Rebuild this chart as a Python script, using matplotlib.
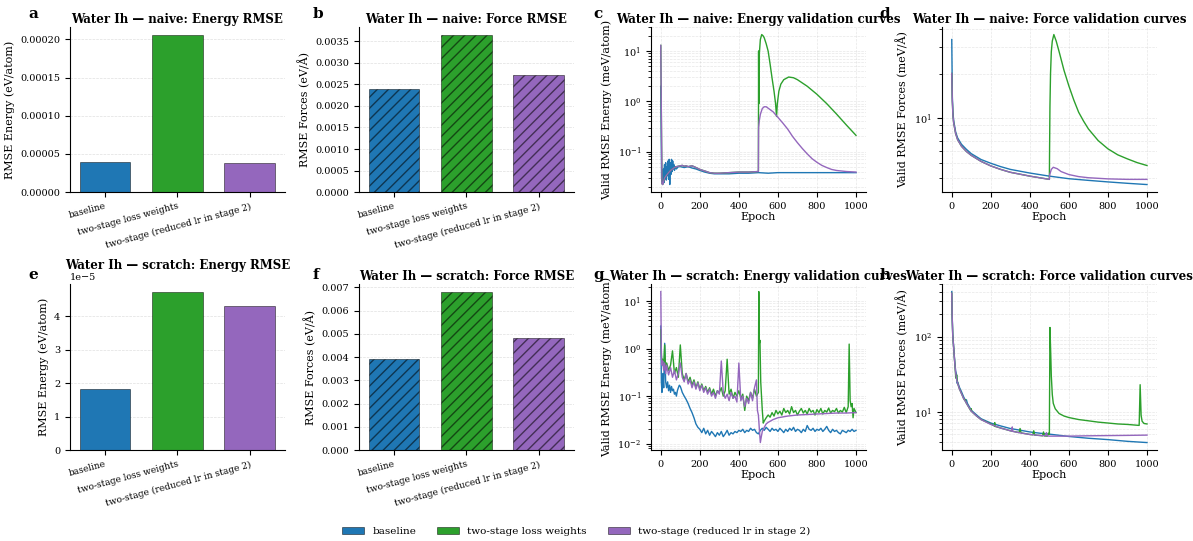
import matplotlib
matplotlib.use("Agg")
import matplotlib.pyplot as plt
from matplotlib.patches import Patch

plt.rcParams["font.family"] = "serif"
plt.rcParams["font.serif"] = ["DejaVu Serif"]

labels = ["baseline", "two-stage loss weights", "two-stage (reduced lr in stage 2)"]
colors = ["#1f77b4", "#2ca02c", "#9467bd"]

# final test RMSE (bar panels)
naive_energy_rmse = [3.90e-5, 2.06e-4, 3.85e-5]
naive_force_rmse = [0.00240, 0.00365, 0.00272]
scratch_energy_rmse = [1.83e-5, 4.73e-5, 4.30e-5]
scratch_force_rmse = [0.00390, 0.00680, 0.00483]

# ---- naive: energy validation curves (meV/atom)
nE_base_ep = [0, 2, 4, 6, 8, 10, 13, 16, 19, 22, 25, 28, 31, 34, 37, 40, 43, 46, 49, 52,
              55, 58, 61, 64, 67, 70, 75, 80, 90, 100, 120, 140, 160, 170, 180, 200, 225,
              250, 275, 300, 350, 400, 450, 500, 550, 600, 700, 800, 900, 1000]
nE_base = [2.0, 0.3, 0.03, 0.025, 0.035, 0.028, 0.045, 0.024, 0.055, 0.03, 0.06, 0.027,
           0.05, 0.033, 0.065, 0.028, 0.07, 0.022, 0.06, 0.035, 0.07, 0.04, 0.065, 0.045,
           0.055, 0.042, 0.05, 0.045, 0.05, 0.05, 0.048, 0.05, 0.047, 0.046, 0.045, 0.042,
           0.039, 0.037, 0.036, 0.036, 0.036, 0.037, 0.037, 0.038, 0.037, 0.038, 0.038,
           0.038, 0.038, 0.038]
nE_stage1_ep = [0, 3, 6, 10, 15, 20, 30, 40, 50, 60, 70, 80, 90, 100, 110, 120, 130, 140,
                150, 160, 170, 180, 190, 200, 225, 250, 275, 300, 350, 400, 450, 500]
nE_stage1 = [13.0, 0.5, 0.023, 0.022, 0.026, 0.03, 0.034, 0.038, 0.042, 0.045, 0.048, 0.05,
             0.051, 0.052, 0.053, 0.051, 0.052, 0.05, 0.051, 0.052, 0.05, 0.048, 0.046,
             0.044, 0.041, 0.038, 0.037, 0.037, 0.038, 0.039, 0.039, 0.04]
nE_loss_ep = [501, 502, 503, 504, 505, 510, 517, 525, 530, 540, 550, 560, 570, 580, 588,
              593, 597, 605, 615, 630, 655, 680, 700, 750, 800, 850, 900, 950, 1000]
nE_loss = [10.0, 0.9, 10.0, 1.0, 9.0, 17.0, 21.4, 20.0, 18.4, 14.0, 10.0, 5.5, 2.9, 1.6,
           0.9, 0.5, 0.9, 1.6, 2.2, 2.7, 3.05, 2.95, 2.7, 2.0, 1.38, 0.9, 0.56, 0.34, 0.21]
nE_lr_ep = [501, 505, 510, 520, 530, 540, 550, 575, 600, 625, 650, 675, 700, 725, 750, 775,
            800, 825, 850, 875, 900, 950, 1000]
nE_lr = [0.3, 0.42, 0.55, 0.72, 0.78, 0.78, 0.73, 0.62, 0.48, 0.37, 0.28, 0.2, 0.15, 0.115,
         0.09, 0.072, 0.061, 0.053, 0.048, 0.044, 0.042, 0.04, 0.039]

# ---- naive: force validation curves (meV/Å)
nF_base_ep = [0, 3, 6, 10, 20, 30, 50, 75, 100, 150, 200, 250, 300, 400, 500, 600, 700,
              800, 900, 1000]
nF_base = [33.8, 14.0, 11.0, 9.6, 8.1, 7.4, 6.7, 6.2, 5.8, 5.3, 5.0, 4.75, 4.55, 4.3, 4.1,
           3.94, 3.84, 3.75, 3.67, 3.6]
nF_stage1_ep = [0, 3, 6, 10, 20, 30, 50, 75, 100, 150, 200, 250, 300, 400, 500]
nF_stage1 = [20.0, 13.0, 10.5, 9.3, 7.9, 7.2, 6.5, 6.0, 5.65, 5.15, 4.8, 4.55, 4.35, 4.1,
             3.9]
nF_loss_ep = [501, 503, 506, 510, 515, 523, 535, 550, 575, 600, 625, 650, 675, 700, 750,
              800, 850, 900, 950, 1000]
nF_loss = [6.0, 12.0, 20.0, 28.0, 33.0, 36.5, 33.0, 28.0, 21.0, 16.5, 13.3, 11.0, 9.6, 8.5,
           7.1, 6.25, 5.7, 5.35, 5.05, 4.83]
nF_lr_ep = [502, 510, 520, 540, 560, 600, 650, 700, 800, 900, 1000]
nF_lr = [4.2, 4.55, 4.7, 4.6, 4.4, 4.2, 4.07, 4.0, 3.93, 3.9, 3.9]

# ---- scratch: energy validation curves (meV/atom)
sE_base_ep = [0, 3, 6, 10, 15, 20, 25, 30, 35, 40, 45, 50, 55, 60, 65, 70, 75, 80, 85, 90,
              95, 100, 105, 110, 120, 130, 140, 150, 160, 170, 180, 190, 200, 210, 220,
              230, 240, 250, 260, 270, 280, 290, 300, 310, 320, 330, 340, 350, 360, 370,
              380, 390, 400, 410, 420, 430, 440, 450, 460, 470, 480, 490, 500, 510, 520,
              530, 540, 550, 560, 570, 580, 590, 600, 610, 620, 630, 640, 650, 660, 670,
              680, 690, 700, 710, 720, 730, 740, 750, 760, 770, 780, 790, 800, 810, 820,
              830, 840, 850, 860, 870, 880, 890, 900, 910, 920, 930, 940, 950, 960, 970,
              980, 990, 1000]
sE_base = [3.0, 0.2, 0.12, 0.3, 0.15, 1.3, 0.2, 0.15, 0.2, 0.13, 0.17, 0.12, 0.16, 0.13,
           0.14, 0.11, 0.12, 0.10, 0.13, 0.15, 0.17, 0.16, 0.14, 0.12, 0.10, 0.085, 0.07,
           0.055, 0.045, 0.035, 0.026, 0.022, 0.02, 0.017, 0.021, 0.016, 0.019, 0.015,
           0.018, 0.016, 0.014, 0.017, 0.015, 0.018, 0.014, 0.016, 0.019, 0.015, 0.017,
           0.016, 0.018, 0.017, 0.019, 0.018, 0.02, 0.017, 0.019, 0.018, 0.021, 0.019,
           0.02, 0.017, 0.016, 0.019, 0.021, 0.019, 0.022, 0.02, 0.018, 0.021, 0.019, 0.02,
           0.018, 0.021, 0.019, 0.017, 0.02, 0.018, 0.021, 0.019, 0.022, 0.018, 0.02,
           0.019, 0.017, 0.02, 0.018, 0.024, 0.02, 0.019, 0.021, 0.018, 0.02, 0.019, 0.021,
           0.018, 0.02, 0.023, 0.019, 0.017, 0.02, 0.018, 0.019, 0.017, 0.016, 0.019,
           0.018, 0.017, 0.019, 0.018, 0.02, 0.018, 0.019]
sE_loss_ep = [0, 3, 6, 10, 15, 20, 25, 30, 40, 50, 60, 70, 80, 90, 100, 110, 120, 130, 140,
              150, 160, 170, 180, 190, 200, 210, 220, 230, 240, 250, 260, 270, 280, 290,
              300, 310, 320, 330, 340, 350, 360, 370, 380, 390, 400, 410, 420, 430, 440,
              450, 460, 470, 480, 490, 500, 502, 505, 508, 512, 516, 520, 525, 530, 540,
              550, 560, 570, 580, 590, 600, 610, 620, 630, 640, 650, 660, 670, 680, 690,
              700, 710, 720, 730, 740, 750, 760, 770, 780, 790, 800, 810, 820, 830, 840,
              850, 860, 870, 880, 890, 900, 910, 920, 930, 940, 950, 960, 965, 970, 975,
              980, 985, 990, 1000]
sE_loss = [2.5, 0.8, 0.5, 0.6, 0.4, 1.2, 0.35, 0.5, 0.35, 0.45, 0.9, 0.3, 0.4, 0.25, 1.2,
           0.3, 0.22, 0.3, 0.2, 0.25, 0.17, 0.22, 0.15, 0.2, 0.14, 0.18, 0.13, 0.16, 0.12,
           0.15, 0.11, 0.14, 0.1, 0.13, 0.12, 0.15, 0.1, 0.13, 0.6, 0.11, 0.14, 0.09, 0.12,
           0.1, 0.13, 0.09, 0.11, 0.05, 0.1, 0.08, 0.12, 0.09, 0.14, 0.1, 0.12, 16.0, 1.3,
           1.5, 0.2, 0.1, 0.05, 0.027, 0.03, 0.035, 0.04, 0.036, 0.045, 0.038, 0.05, 0.042,
           0.048, 0.04, 0.055, 0.045, 0.05, 0.042, 0.06, 0.045, 0.05, 0.04, 0.048, 0.055,
           0.044, 0.05, 0.042, 0.055, 0.046, 0.05, 0.04, 0.052, 0.045, 0.055, 0.042, 0.05,
           0.046, 0.056, 0.044, 0.05, 0.047, 0.055, 0.044, 0.05, 0.046, 0.058, 0.045, 0.06,
           1.25, 0.08, 0.06, 0.07, 0.035, 0.055, 0.045]
sE_lr_ep = [0, 3, 6, 10, 15, 20, 25, 30, 40, 50, 60, 70, 80, 90, 100, 110, 120, 130, 140,
            150, 160, 170, 180, 190, 200, 210, 220, 230, 240, 250, 260, 270, 280, 290, 300,
            310, 320, 330, 340, 350, 360, 370, 380, 390, 400, 410, 420, 430, 440, 450, 460,
            470, 480, 490, 495, 500, 505, 510, 515, 520, 530, 540, 550, 575, 600, 650, 700,
            750, 800, 850, 900, 950, 1000]
sE_lr = [16.0, 0.7, 0.45, 0.55, 0.35, 0.5, 0.3, 0.45, 0.28, 0.4, 0.25, 0.35, 0.22, 0.3, 0.5,
         0.25, 0.2, 0.3, 0.18, 0.22, 0.15, 0.2, 0.14, 0.19, 0.13, 0.17, 0.12, 0.15, 0.11,
         0.14, 0.1, 0.12, 0.09, 0.13, 0.11, 0.55, 0.12, 0.09, 0.11, 0.08, 0.12, 0.09, 0.1,
         0.075, 0.5, 0.08, 0.1, 0.06, 0.09, 0.07, 0.12, 0.08, 0.15, 0.22, 0.05, 0.04, 0.02,
         0.0105, 0.014, 0.018, 0.022, 0.026, 0.028, 0.032, 0.035, 0.038, 0.04, 0.041, 0.042,
         0.043, 0.044, 0.044, 0.045]

# ---- scratch: force validation curves (meV/Å)
sF_base_ep = [0, 2, 5, 10, 15, 20, 25, 28, 30, 40, 50, 60, 70, 75, 80, 100, 125, 150, 200,
              250, 300, 350, 400, 450, 500, 600, 700, 800, 900, 1000]
sF_base = [400.0, 200.0, 110.0, 72.0, 48.0, 35.0, 31.0, 24.0, 25.0, 21.0, 18.5, 16.0, 14.2,
           14.5, 13.0, 10.5, 9.2, 8.1, 7.1, 6.5, 6.0, 5.7, 5.4, 5.2, 5.05, 4.7, 4.45, 4.27,
           4.05, 3.9]
sF_loss_ep = [0, 2, 5, 10, 15, 20, 22, 25, 30, 40, 50, 60, 68, 70, 72, 80, 98, 100, 102,
              125, 150, 200, 218, 220, 222, 250, 300, 345, 350, 355, 400, 415, 420, 425,
              450, 465, 470, 475, 490, 495, 500, 503, 507, 510, 515, 520, 530, 550, 575,
              600, 650, 700, 750, 800, 850, 900, 960, 965, 970, 975, 985, 1000]
sF_loss = [380.0, 190.0, 105.0, 70.0, 46.0, 30.0, 28.0, 31.0, 24.0, 20.0, 17.5, 15.2, 14.0,
           14.6, 13.4, 12.4, 10.3, 11.0, 10.1, 8.9, 7.9, 6.9, 6.5, 7.2, 6.4, 6.1, 5.6, 5.3,
           6.0, 5.25, 5.0, 4.95, 5.6, 4.9, 4.85, 4.8, 5.4, 4.78, 4.75, 5.2, 5.0, 133.0, 60.0,
           30.0, 17.0, 13.0, 11.0, 9.5, 8.8, 8.4, 7.9, 7.6, 7.3, 7.1, 6.9, 6.8, 6.6, 23.0,
           9.0, 7.5, 7.0, 6.9]
sF_lr_ep = [0, 2, 5, 10, 15, 20, 25, 30, 40, 50, 60, 70, 80, 100, 125, 150, 200, 250, 300,
            308, 310, 312, 350, 400, 450, 480, 485, 490, 500, 520, 600, 700, 800, 900, 1000]
sF_lr = [380.0, 190.0, 105.0, 70.0, 46.0, 33.0, 27.0, 24.0, 20.0, 17.5, 15.2, 13.8, 12.4,
         10.2, 8.9, 7.9, 6.8, 6.1, 5.6, 5.55, 6.3, 5.5, 5.25, 5.0, 4.85, 4.8, 5.3, 4.78,
         4.75, 4.75, 4.75, 4.8, 4.83, 4.86, 4.9]


def bar_panel(ax, values, title, ylabel, hatch=None):
    x = range(len(values))
    ax.bar(x, values, width=0.7, color=colors, edgecolor=(0, 0, 0, 0.55),
           linewidth=0.6, hatch=hatch, zorder=2)
    ax.set_xticks(list(x))
    ax.set_xticklabels(labels, rotation=15, ha="right", rotation_mode="anchor",
                       fontsize=6.5)
    ax.tick_params(axis="y", labelsize=7)
    ax.yaxis.get_offset_text().set_fontsize(7)
    ax.set_ylabel(ylabel, fontsize=8)
    ax.set_title(title, fontsize=8.5, fontweight="bold", pad=3)
    ax.grid(True, axis="y", ls="--", lw=0.5, alpha=0.4, zorder=0)
    ax.spines["top"].set_visible(False)
    ax.spines["right"].set_visible(False)


def curve_panel(ax, series, title, ylabel):
    for (ep, val), c in zip(series, colors):
        ax.plot(ep, val, color=c, lw=1.0)
    ax.set_yscale("log")
    ax.set_xlabel("Epoch", fontsize=8, labelpad=1)
    ax.set_ylabel(ylabel, fontsize=8)
    ax.tick_params(axis="both", labelsize=7)
    ax.set_title(title, fontsize=8.5, fontweight="bold", pad=3)
    ax.grid(True, which="both", ls="--", lw=0.5, alpha=0.3)
    ax.spines["top"].set_visible(False)
    ax.spines["right"].set_visible(False)


fig = plt.figure(figsize=(11.93, 5.41), dpi=100)

lefts = [0.0587, 0.3009, 0.5457, 0.7896]
w = 0.180
row1_b, row1_h = 0.645, 0.305
row2_b, row2_h = 0.168, 0.307

ax_a = fig.add_axes([lefts[0], row1_b, w, row1_h])
ax_b = fig.add_axes([lefts[1], row1_b, w, row1_h])
ax_c = fig.add_axes([lefts[2], row1_b, w, row1_h])
ax_d = fig.add_axes([lefts[3], row1_b, w, row1_h])
ax_e = fig.add_axes([lefts[0], row2_b, w, row2_h])
ax_f = fig.add_axes([lefts[1], row2_b, w, row2_h])
ax_g = fig.add_axes([lefts[2], row2_b, w, row2_h])
ax_h = fig.add_axes([lefts[3], row2_b, w, row2_h])

bar_panel(ax_a, naive_energy_rmse, "Water Ih — naive: Energy RMSE", "RMSE Energy (eV/atom)")
bar_panel(ax_b, naive_force_rmse, "Water Ih — naive: Force RMSE", "RMSE Forces (eV/Å)",
          hatch="///")
bar_panel(ax_e, scratch_energy_rmse, "Water Ih — scratch: Energy RMSE",
          "RMSE Energy (eV/atom)")
bar_panel(ax_f, scratch_force_rmse, "Water Ih — scratch: Force RMSE", "RMSE Forces (eV/Å)",
          hatch="///")

curve_panel(ax_c, [(nE_base_ep, nE_base),
                   (nE_stage1_ep + nE_loss_ep, nE_stage1 + nE_loss),
                   (nE_stage1_ep + nE_lr_ep, nE_stage1 + nE_lr)],
            "Water Ih — naive: Energy validation curves", "Valid RMSE Energy (meV/atom)")
curve_panel(ax_d, [(nF_base_ep, nF_base),
                   (nF_stage1_ep + nF_loss_ep, nF_stage1 + nF_loss),
                   (nF_stage1_ep + nF_lr_ep, nF_stage1 + nF_lr)],
            "Water Ih — naive: Force validation curves", "Valid RMSE Forces (meV/Å)")
curve_panel(ax_g, [(sE_base_ep, sE_base), (sE_loss_ep, sE_loss), (sE_lr_ep, sE_lr)],
            "Water Ih — scratch: Energy validation curves", "Valid RMSE Energy (meV/atom)")
curve_panel(ax_h, [(sF_base_ep, sF_base), (sF_loss_ep, sF_loss), (sF_lr_ep, sF_lr)],
            "Water Ih — scratch: Force validation curves", "Valid RMSE Forces (meV/Å)")

letter_x = [0.024, 0.262, 0.497, 0.737]
for i, letter in enumerate("abcd"):
    fig.text(letter_x[i], 0.974, letter, fontsize=11, fontweight="bold", va="center")
for i, letter in enumerate("efgh"):
    fig.text(letter_x[i], 0.491, letter, fontsize=11, fontweight="bold", va="center")

handles = [Patch(facecolor=c, edgecolor=(0, 0, 0, 0.55), linewidth=0.6) for c in colors]
fig.legend(handles, labels, loc="center", bbox_to_anchor=(0.483, 0.017), ncol=3,
           frameon=False, fontsize=7.5, columnspacing=2.0, handlelength=2.1,
           handleheight=0.6)

plt.savefig("out.png", dpi=100)
plt.close()
